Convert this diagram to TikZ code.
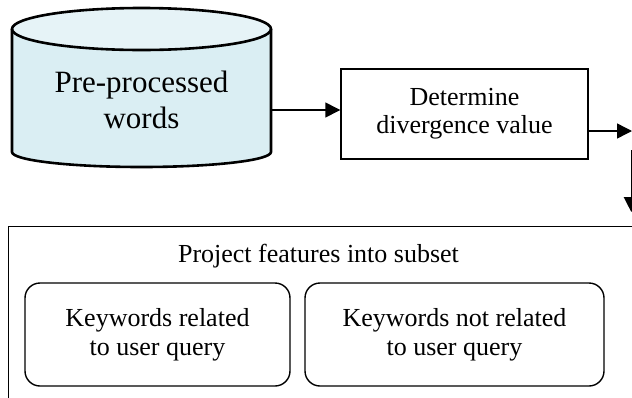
\documentclass[tikz,border=0pt]{standalone}
\usepackage{fontspec}
\setmainfont{Liberation Serif}
\usetikzlibrary{arrows.meta,calc}
\definecolor{cylbody}{HTML}{DAEEF3}
\definecolor{cyltop}{HTML}{E6F3F7}
\begin{document}
\begin{tikzpicture}[x=1pt,y=-1pt,
  arr/.style={-{Triangle[length=15pt,width=15pt]}, line width=1.4pt},
  cylline/.style={line width=2.6pt},
  procbox/.style={draw, line width=1.4pt, minimum width=247pt, minimum height=90pt,
    inner sep=0pt, align=center, font=\fontsize{26}{28}\selectfont},
  keybox/.style={draw, line width=1.4pt, rounded corners=15pt, minimum height=103pt,
    inner sep=0pt, align=center, font=\fontsize{26}{29}\selectfont},
  bigbox/.style={draw, line width=1.4pt, minimum width=700pt, minimum height=220pt,
    inner sep=0pt, anchor=north west},
  txt/.style={inner sep=0pt, align=center}
]
\useasboundingbox (0,0) rectangle (632,397);
\clip (0,0) rectangle (632,397);

% cylinder
\fill[cylbody] (12,29) -- (12,152) arc[start angle=180, end angle=360, x radius=129.5pt, y radius=15pt]
  -- (271,29) arc[start angle=0, end angle=180, x radius=129.5pt, y radius=21pt] -- cycle;
\draw[cylline, fill=cyltop] (141.5,29) ellipse [x radius=129.5pt, y radius=21pt];
\draw[cylline] (12,29) -- (12,152) arc[start angle=180, end angle=360, x radius=129.5pt, y radius=15pt] -- (271,29);
\node[txt, minimum width=259pt, minimum height=160pt, font=\fontsize{31}{36}\selectfont] (db) at (141.5,99.5) {Pre-processed\\words};

% process box
\node[procbox] (div) at (464.5,114) {Determine\\divergence value};

% big box
\node[bigbox] (proj) at (8,226) {};
\node[txt, anchor=base, font=\fontsize{26}{28}\selectfont] (title) at (318.5,262) {Project features into subset};
\node[keybox, minimum width=265pt] (rel) at (157.5,334.5) {Keywords related\\to user query};
\node[keybox, minimum width=299pt] (nrel) at (454.5,334.5) {Keywords not related\\to user query};

% connectors
\coordinate (a1) at ([yshift=4pt]div.west);
\draw[arr] (db.east |- a1) -- (a1);
\coordinate (r1) at ([yshift=-17pt]div.east);
\coordinate (r2) at (632,131);
\draw[arr] (r1) -- (r2);
\coordinate (d1) at (631.3,150);
\coordinate (d2) at (631.3,212);
\draw[arr] (d1) -- (d2);
\end{tikzpicture}
\end{document}
